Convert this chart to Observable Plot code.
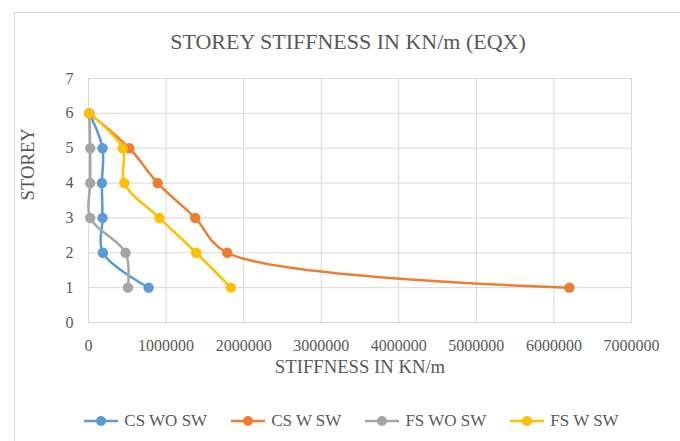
<!DOCTYPE html>
<html>
<head>
<meta charset="utf-8">
<script src="https://cdn.jsdelivr.net/npm/d3@7"></script>
<script src="https://cdn.jsdelivr.net/npm/@observablehq/plot@0.6"></script>
<style>
  html, body { margin: 0; padding: 0; background: #fff; }
  body { width: 680px; height: 441px; overflow: hidden; position: relative; font-family: "Liberation Serif", "Times New Roman", serif; color: #595959; }
  #frame { position: absolute; left: 14px; top: 12px; width: 700px; height: 460px; border-left: 1px solid #d9d9d9; border-top: 1px solid #d9d9d9; box-sizing: border-box; pointer-events: none; }
  #title { height: 62px; padding-top: 28px; text-align: center; font-size: 22px; line-height: 28px; padding-left: 16px; box-sizing: border-box; }
  #chart svg { display: block; }
  #legend { display: flex; justify-content: center; align-items: center; gap: 24px; height: 48px; font-size: 17px; padding-left: 23px; box-sizing: border-box; }
  .item { display: flex; align-items: center; gap: 6px; }
  .item svg { display: block; }
</style>
</head>
<body>
<div id="frame"></div>
<div id="title">STOREY STIFFNESS IN KN/m (EQX)</div>
<div id="chart"></div>
<div id="legend"></div>
<script>
// Data
const storeys = [1, 2, 3, 4, 5, 6];
const seriesNames = ["CS WO SW", "CS W SW", "FS WO SW", "FS W SW"];
const seriesColors = ["#5B9BD5", "#ED7D31", "#A5A5A5", "#FFC000"];
const csWoSw = [775000, 186000, 181000, 173000, 181000, 10000];
const csWSw  = [6200000, 1788000, 1375000, 892000, 526000, 10000];
const fsWoSw = [509000, 478000, 22000, 22000, 22000, 10000];
const fsWSw  = [1835000, 1388000, 913000, 461000, 440000, 10000];
const xTicks = [0, 1000000, 2000000, 3000000, 4000000, 5000000, 6000000, 7000000];
const yTicks = [0, 1, 2, 3, 4, 5, 6, 7];

const serif = '"Liberation Serif", "Times New Roman", serif';
const seriesValues = [csWoSw, csWSw, fsWoSw, fsWSw];
const rows = [];
seriesNames.forEach((name, i) => {
  storeys.forEach((s, j) => rows.push({series: name, storey: s, stiffness: seriesValues[i][j]}));
});

const plot = Plot.plot({
  width: 680,
  height: 335,
  marginLeft: 88,
  marginRight: 49,
  marginTop: 16,
  marginBottom: 75,
  style: `font-family: ${serif}; font-size: 16px; color: #595959; background: #fff;`,
  x: {domain: [0, 7000000], ticks: xTicks, tickFormat: d3.format("d"), label: null},
  y: {domain: [0, 7], ticks: yTicks, tickFormat: d3.format("d"), label: null},
  color: {domain: seriesNames, range: seriesColors},
  marks: [
    Plot.gridX(xTicks, {stroke: "#d9d9d9", strokeOpacity: 1}),
    Plot.gridY(yTicks, {stroke: "#d9d9d9", strokeOpacity: 1}),
    Plot.frame({stroke: "#d9d9d9"}),
    Plot.axisX({ticks: xTicks, tickFormat: d3.format("d"), tickSize: 0, tickPadding: 17, label: null, fill: "#595959", fontFamily: serif, fontSize: 16}),
    Plot.axisY({ticks: yTicks, tickFormat: d3.format("d"), tickSize: 0, tickPadding: 15, label: null, fill: "#595959", fontFamily: serif, fontSize: 16}),
    Plot.text(["STIFFNESS IN KN/m"], {frameAnchor: "bottom", dy: 50, fontSize: 18.7, fill: "#595959", fontFamily: serif}),
    Plot.text(["STOREY"], {frameAnchor: "left", rotate: -90, dx: -60, fontSize: 18.7, fill: "#595959", fontFamily: serif}),
    Plot.line(rows, {x: "stiffness", y: "storey", z: "series", stroke: "series", strokeWidth: 2.5, curve: "catmull-rom"}),
    Plot.dot(rows, {x: "stiffness", y: "storey", fill: "series", r: 5.2, stroke: null})
  ]
});
document.getElementById("chart").appendChild(plot);

const legend = document.getElementById("legend");
seriesNames.forEach((name, i) => {
  const item = document.createElement("div");
  item.className = "item";
  item.innerHTML = `<svg width="34" height="12"><line x1="0" y1="6" x2="34" y2="6" stroke="${seriesColors[i]}" stroke-width="2.5"/><circle cx="17" cy="6" r="5" fill="${seriesColors[i]}"/></svg><span>${name}</span>`;
  legend.appendChild(item);
});
</script>
</body>
</html>
